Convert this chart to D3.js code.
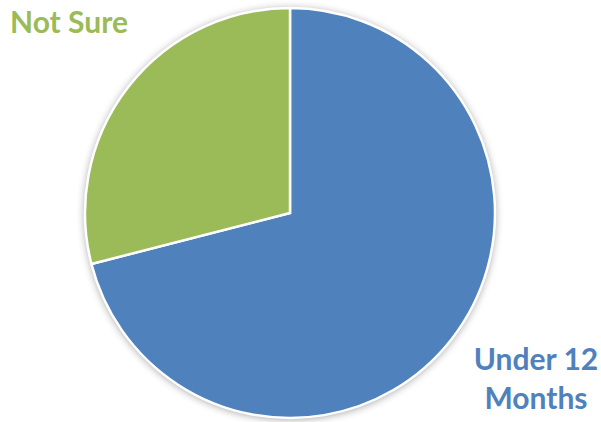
<!DOCTYPE html>
<html>
<head>
<meta charset="utf-8">
<script src="https://cdn.jsdelivr.net/npm/d3@7"></script>
<style>
  html, body { margin: 0; padding: 0; background: #fff; }
  svg { display: block; }
</style>
</head>
<body>
<svg id="chart" width="601" height="422"></svg>
<script>
// Survey answers and their shares
const categories = ["Under 12 Months", "Not Sure"];
const values = [71, 29];
const colors = ["#4F81BD", "#9BBB59"];

const width = 601, height = 422;
const cx = 290, cy = 213, radius = 205;

const svg = d3.select("#chart");

// soft drop shadow under the pie
const defs = svg.append("defs");
const f = defs.append("filter").attr("id", "shadow")
  .attr("x", "-20%").attr("y", "-20%").attr("width", "140%").attr("height", "140%");
f.append("feGaussianBlur").attr("in", "SourceAlpha").attr("stdDeviation", 4).attr("result", "b");
f.append("feOffset").attr("in", "b").attr("dx", 0).attr("dy", 1).attr("result", "o");
f.append("feComponentTransfer").attr("in", "o").attr("result", "s")
  .append("feFuncA").attr("type", "linear").attr("slope", 0.4);
const m = f.append("feMerge");
m.append("feMergeNode").attr("in", "s");
m.append("feMergeNode").attr("in", "SourceGraphic");

const data = categories.map((c, i) => ({ cat: c, value: values[i], color: colors[i] }));

const pie = d3.pie().value(d => d.value).sort(null);
const arc = d3.arc().innerRadius(0).outerRadius(radius);

const g = svg.append("g").attr("transform", `translate(${cx},${cy})`);

g.append("circle").attr("r", radius).attr("fill", "#fff").attr("filter", "url(#shadow)");

g.selectAll("path.slice")
  .data(pie(data))
  .join("path")
  .attr("class", "slice")
  .attr("d", arc)
  .attr("fill", d => d.data.color)
  .attr("stroke", "#fff")
  .attr("stroke-width", 2.5)
  .attr("stroke-linejoin", "miter");

// category labels
const font = "Lato, 'Open Sans', sans-serif";
svg.append("text")
  .attr("x", 10).attr("y", 33)
  .attr("font-family", font).attr("font-weight", 700).attr("font-size", 30)
  .attr("fill", colors[1])
  .text("Not Sure");

const lab = svg.append("text")
  .attr("font-family", font).attr("font-weight", 700).attr("font-size", 30)
  .attr("fill", colors[0])
  .attr("text-anchor", "middle");
lab.append("tspan").attr("x", 536).attr("y", 370).text("Under 12");
lab.append("tspan").attr("x", 536).attr("y", 409).text("Months");
</script>
</body>
</html>
